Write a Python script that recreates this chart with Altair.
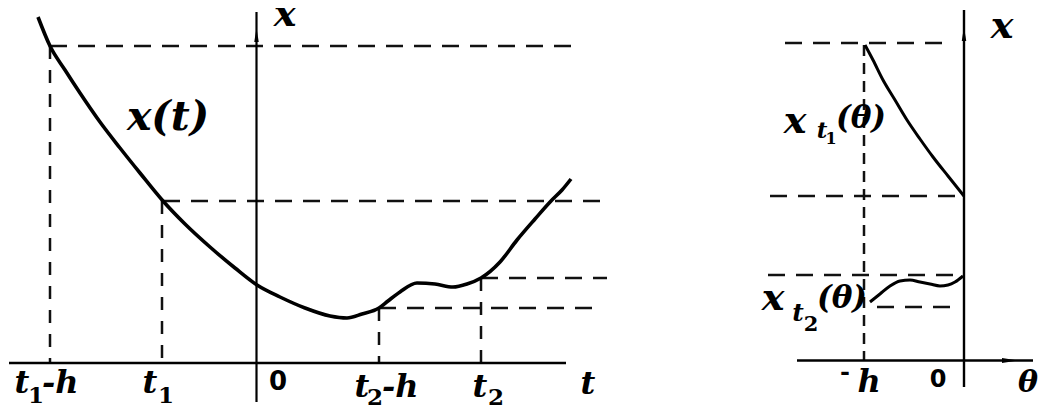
import altair as alt
import pandas as pd

# Diagram units: horizontal position to the right, vertical position downward
# (both expressed in the picture's own coordinate frame).
X_DOMAIN = [8, 1039]
Y_DOMAIN = [8, 406]

SERIF = "DejaVu Serif"

# ---- x(t), the full trajectory (left panel) ----
xt_h = [38, 50, 65, 80, 100, 120, 140, 163, 185, 210, 235, 257, 280, 305, 330,
        347, 362, 379, 388, 400, 417, 435, 453, 467, 481, 500, 517, 535, 551, 562, 571]
xt_v = [17, 46, 70, 93, 122, 148, 173, 201, 224, 247, 268, 285, 297, 308, 316,
        318, 314, 308, 301, 292, 283, 284, 287, 284, 278, 262, 240, 219, 201, 190, 179]

# ---- x_t1(theta) segment (right panel) ----
s1_h = [865, 873, 883, 895, 907, 920, 933, 948, 964]
s1_v = [45, 60, 80, 100, 120, 139, 157, 176, 196]

# ---- x_t2(theta) segment (right panel) ----
s2_h = [870, 880, 890, 900, 910, 920, 930, 940, 948, 955, 963]
s2_v = [302, 294, 286, 281, 280, 282, 284, 286, 285, 282, 276]

# ---- solid axes ----
ax_h1 = [9, 256.5, 797, 964]
ax_h2 = [566, 256.5, 1033, 964]
ax_v1 = [363, 12, 360.5, 10]
ax_v2 = [363, 402, 360.5, 387]
ax_w = [2.6, 2.2, 2.4, 2.4]

# ---- long-dash horizontal guides ----
gh_h1 = [50, 163, 481, 379, 785, 770, 768, 877]
gh_h2 = [580, 610, 607, 597, 953, 960, 960, 953]
gh_v = [46, 201, 278, 308, 43, 196, 275, 307]

# ---- short-dash vertical guides (left panel) ----
gv_h = [50, 162, 379, 481]
gv_v1 = [46, 201, 308, 278]
gv_v2 = [363, 363, 363, 363]

# ---- vertical guide at -h (right panel) ----
gv2_h = [864]
gv2_v1 = [45]
gv2_v2 = [360]

# ---- arrow heads ----
up_h = [256.5, 964]
up_v = [35, 34]
right_h = [1010]
right_v = [360.5]

# ---- italic labels (centre, baseline) ----
it_text = ["x", "x(t)", "t", "t", "t", "t", "t",
           "x", "h", "x", "t", "(θ)", "x", "t", "(θ)"]
it_h = [285, 168, 22, 150, 362, 480, 588,
        1002, 869, 795, 822, 861, 773, 798, 842]
it_v = [26, 130, 393, 393, 397, 397, 394,
        38, 392, 133, 138, 128, 310, 321, 308]
it_size = [38, 41, 32, 32, 32, 32, 32,
           38, 32, 38, 23, 31, 38, 25, 31]

# ---- "-h" pieces written left-aligned after t1 / t2 ----
mh_text = ["-h", "-h"]
mh_h = [42, 382]
mh_v = [393, 397]

# ---- upright subscripts / minus sign ----
sub_text = ["1", "1", "2", "2", "1", "2", "-"]
sub_h = [36, 166, 375, 496, 831, 811, 845]
sub_v = [403, 403, 405, 405, 144, 331, 380]
sub_size = [23, 23, 23, 23, 16, 21, 24]

# ---- origin labels ----
zero_text = ["0", "0"]
zero_h = [278, 938]
zero_v = [390, 387]
zero_size = [26, 24]

xs = alt.Scale(domain=X_DOMAIN, nice=False, zero=False)
ys = alt.Scale(domain=Y_DOMAIN, nice=False, zero=False, reverse=True)


def X(f="h"):
    return alt.X(f"{f}:Q", scale=xs, axis=None)


def Y(f="v"):
    return alt.Y(f"{f}:Q", scale=ys, axis=None)


main_df = pd.DataFrame({"h": xt_h, "v": xt_v, "o": range(len(xt_h))})
seg_df = pd.concat([
    pd.DataFrame({"h": s1_h, "v": s1_v, "c": "s1", "o": range(len(s1_h))}),
    pd.DataFrame({"h": s2_h, "v": s2_v, "c": "s2", "o": range(len(s2_h))}),
])

main_layer = alt.Chart(main_df).mark_line(
    color="black", strokeWidth=3.6, interpolate="monotone"
).encode(x=X(), y=Y(), order="o:Q")

seg_layer = alt.Chart(seg_df).mark_line(
    color="black", strokeWidth=3, interpolate="monotone"
).encode(x=X(), y=Y(), detail="c:N", order="o:Q")

axes_df = pd.DataFrame({"h": ax_h1, "h2": ax_h2, "v": ax_v1, "v2": ax_v2, "w": ax_w})
axes_layer = alt.Chart(axes_df).mark_rule(color="black").encode(
    x=X(), x2="h2:Q", y=Y(), y2="v2:Q",
    strokeWidth=alt.StrokeWidth("w:Q", scale=None))

gh_df = pd.DataFrame({"h": gh_h1, "h2": gh_h2, "v": gh_v})
gh_layer = alt.Chart(gh_df).mark_rule(
    color="#111", strokeWidth=2.5, strokeDash=[17, 11]
).encode(x=X(), x2="h2:Q", y=Y())

gv_df = pd.DataFrame({"h": gv_h, "v": gv_v1, "v2": gv_v2})
gv_layer = alt.Chart(gv_df).mark_rule(
    color="#111", strokeWidth=2.5, strokeDash=[13, 11]
).encode(x=X(), y=Y(), y2="v2:Q")

gv2_df = pd.DataFrame({"h": gv2_h, "v": gv2_v1, "v2": gv2_v2})
gv2_layer = alt.Chart(gv2_df).mark_rule(
    color="#111", strokeWidth=2.5, strokeDash=[11, 7]
).encode(x=X(), y=Y(), y2="v2:Q")

up_layer = alt.Chart(pd.DataFrame({"h": up_h, "v": up_v})).mark_point(
    shape="M0,-1L0.32,1L-0.32,1Z", filled=True, color="black", opacity=1, size=196
).encode(x=X(), y=Y())

right_layer = alt.Chart(pd.DataFrame({"h": right_h, "v": right_v})).mark_point(
    shape="M1,0L-1,0.32L-1,-0.32Z", filled=True, color="black", opacity=1, size=256
).encode(x=X(), y=Y())

it_df = pd.DataFrame({"t": it_text, "h": it_h, "v": it_v, "s": it_size})
it_layer = alt.Chart(it_df).mark_text(
    font=SERIF, fontStyle="italic", fontWeight="bold",
    align="center", baseline="alphabetic", color="black"
).encode(x=X(), y=Y(), text="t:N", size=alt.Size("s:Q", scale=None))

mh_df = pd.DataFrame({"t": mh_text, "h": mh_h, "v": mh_v})
mh_layer = alt.Chart(mh_df).mark_text(
    font=SERIF, fontStyle="italic", fontWeight="bold", fontSize=32,
    align="left", baseline="alphabetic", color="black"
).encode(x=X(), y=Y(), text="t:N")

theta_layer = alt.Chart(pd.DataFrame({"t": ["θ"], "h": [1038], "v": [392]})).mark_text(
    font=SERIF, fontStyle="italic", fontWeight="bold", fontSize=30,
    align="right", baseline="alphabetic", color="black"
).encode(x=X(), y=Y(), text="t:N")

sub_df = pd.DataFrame({"t": sub_text, "h": sub_h, "v": sub_v, "s": sub_size})
sub_layer = alt.Chart(sub_df).mark_text(
    font=SERIF, fontWeight="bold",
    align="center", baseline="alphabetic", color="black"
).encode(x=X(), y=Y(), text="t:N", size=alt.Size("s:Q", scale=None))

zero_df = pd.DataFrame({"t": zero_text, "h": zero_h, "v": zero_v, "s": zero_size})
zero_layer = alt.Chart(zero_df).mark_text(
    font="DejaVu Sans", fontWeight="bold",
    align="center", baseline="alphabetic", color="black"
).encode(x=X(), y=Y(), text="t:N", size=alt.Size("s:Q", scale=None))

chart = alt.layer(
    gh_layer, gv_layer, gv2_layer, axes_layer, main_layer, seg_layer,
    up_layer, right_layer, it_layer, mh_layer, theta_layer, sub_layer, zero_layer
).properties(
    width=1031, height=398, padding=0, autosize="none", background="white"
).configure_view(stroke=None)

chart.save("out.html", embed_options={"renderer": "svg", "actions": False})
